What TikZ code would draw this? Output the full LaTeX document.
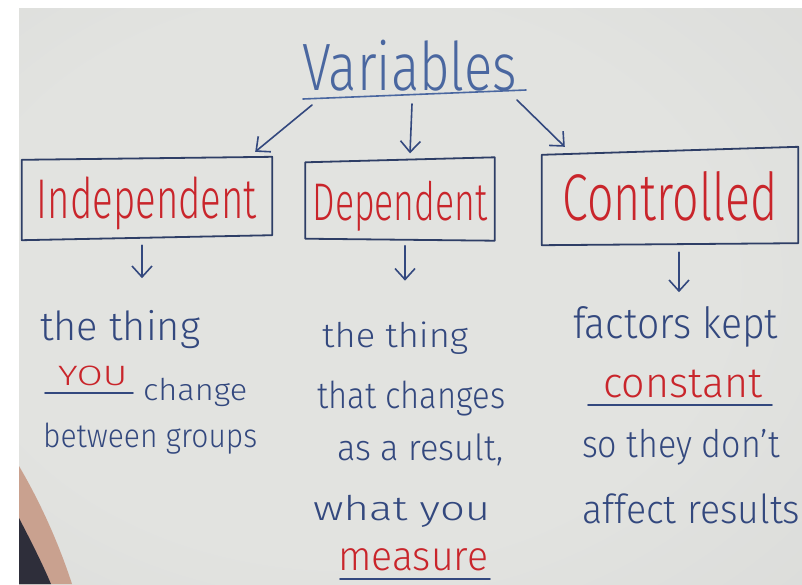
\documentclass[tikz,border=0pt]{standalone}
\usepackage{graphicx}
\usepackage{fontspec}
\setmainfont{Fira Sans}[UprightFont=* Light]
\usetikzlibrary{arrows.meta,calc}

\definecolor{ink}{HTML}{33487E}
\definecolor{inklight}{HTML}{4A67A0}
\definecolor{inkred}{HTML}{C9252B}
\definecolor{boxink}{HTML}{2E3E66}
\definecolor{bdA}{HTML}{E2E3E0}
\definecolor{bdB}{HTML}{D9DAD8}
\definecolor{bdC}{HTML}{BBBBBD}
\definecolor{skin}{HTML}{C9A18F}
\definecolor{sleeve}{HTML}{2E2E3A}

% whiteboard: light in the middle, darker toward the corners
\pgfdeclareradialshading{board}{\pgfpoint{-6bp}{2bp}}{%
  color(0bp)=(bdA); color(24bp)=(bdA); color(46bp)=(bdB);
  color(68bp)=(bdC); color(80bp)=(bdC)}

% handwriting: font size (pt), target width, text
\newcommand{\hw}[3]{{\fontsize{#1pt}{#1pt}\selectfont\resizebox{#2}{\height}{#3}}}

\begin{document}
\begin{tikzpicture}[x=1pt,y=-1pt,
  hand/.style={inner sep=0pt, anchor=base west, text=ink},
  handred/.style={hand, text=inkred},
  pen/.style={draw=ink, line width=1.6pt, line cap=round, line join=round},
  boxpen/.style={draw=boxink, line width=1.8pt, line join=round},
  arr/.style={pen, -{Straight Barb[length=11pt,width=20pt]}},
  boxnode/.style={inner sep=0pt, text=inkred, text depth=0pt}]

\useasboundingbox (0,0) rectangle (802,584);
\fill[white] (0,0) rectangle (802,584);
\shade[shading=board] (19,8) rectangle (802,584);

% arm at the lower left edge
\fill[skin] (19,466) .. controls (36,495) and (56,535) .. (72,584) -- (19,584) -- cycle;
\fill[sleeve] (19,518) .. controls (32,543) and (43,565) .. (51,584) -- (19,584) -- cycle;

% title
\node[hand, text=inklight] (title) at (302,90) {\hw{67}{215pt}{Variables}};
\coordinate (ulA) at (303,99);
\coordinate (ulB) at (526,90);
\draw[pen, draw=inklight] (ulA) -- (ulB);
\coordinate (a1) at (312,105);
\coordinate (a2) at (412,104);
\coordinate (a3) at (517,100);

% the three kinds of variable
\node[boxnode, text height=40pt, minimum width=250pt, minimum height=80pt]
  (ind) at (147,198) {\hw{56}{220pt}{Independent}};
\node[boxnode, text height=38pt, minimum width=189pt, minimum height=79pt]
  (dep) at (400,201) {\hw{53}{175pt}{Dependent}};
\node[boxnode, text height=47pt, minimum width=256pt, minimum height=93pt]
  (con) at (670,196.5) {\hw{66}{215pt}{Controlled}\hspace{14pt}};

\draw[boxpen] ([yshift=-2pt]ind.north west) -- ([yshift=1pt]ind.north east)
  -- ([yshift=3pt]ind.south east) -- ([yshift=-2pt]ind.south west) -- cycle;
\draw[boxpen] ([yshift=-1pt]dep.north west) -- ([yshift=4pt]dep.north east)
  -- ([yshift=0pt]dep.south east) -- ([yshift=2pt]dep.south west) -- cycle;
\draw[boxpen] ([yshift=-5pt]con.north west) -- ([yshift=3pt]con.north east)
  -- (con.south east) -- ([yshift=-2pt]con.south west) -- cycle;

\draw[arr] (a1) -- ($(ind.north east)+(-17,-6)$);
\draw[arr] (a2) -- ($(dep.north)+(10,-8)$);
\draw[arr] (a3) -- ($(con.north west)+(23,-3)$);

\draw[arr] (ind.south) ++(-5,7) -- ++(0,33);
\draw[arr] (dep.south) ++(5,5) -- ++(0,35);
\draw[arr] (con.south) ++(9,9) -- ++(0,40);

% independent
\node[hand] (i1) at (40,340) {\hw{40}{160pt}{the thing}};
\node[handred] (i2) at (58,385) {\hw{28}{69pt}{YOU}};
\draw[pen] ($(i2.base west)+(-13,8)$) -- ++(88,0);
\node[hand] (i3) at (143,400) {\hw{30}{104pt}{change}};
\node[hand] (i4) at (43,447) {\hw{33}{214pt}{between groups}};

% dependent
\node[hand] (d1) at (322,347) {\hw{34}{146pt}{the thing}};
\node[hand] (d2) at (317,408) {\hw{37}{188pt}{that changes}};
\node[hand] (d3) at (337,460) {\hw{36}{166pt}{as a result,}};
\node[hand] (d4) at (313,520) {\hw{34}{177pt}{what you}};
\node[handred] (d5) at (338,570) {\hw{41}{150pt}{measure}};
\draw[pen] ($(d5.base west)+(2,9)$) -- ++(150,0);

% controlled
\node[hand] (c1) at (573,338) {\hw{43}{205pt}{factors kept}};
\node[handred] (c2) at (603,397) {\hw{42}{159pt}{constant}};
\draw[pen] ($(c2.base west)+(-15,8)$) -- ++(184,0);
\node[hand] (c3) at (582,457) {\hw{38}{198pt}{so they don't}};
\node[hand] (c4) at (582,523) {\hw{40}{218pt}{affect results}};
\end{tikzpicture}
\end{document}
